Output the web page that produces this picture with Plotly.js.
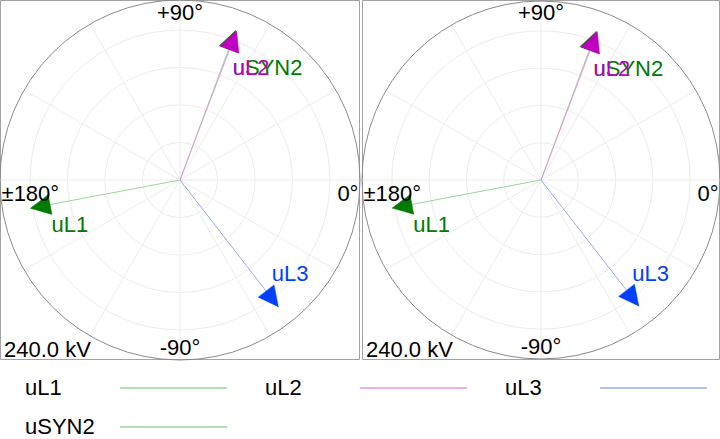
<!DOCTYPE html>
<html><head><meta charset="utf-8">
<script src="https://cdn.plot.ly/plotly-3.0.1.min.js"></script>
<style>html,body{margin:0;padding:0;background:#fff}#chart{width:720px;height:439px}</style>
</head><body><div id="chart"></div>
<script>
// ---- data ----
const phasorNames = ['uL1', 'uL2', 'uL3', 'uSYN2'];
const magnitudeKV = [203, 212.6, 214, 212.6];
const angleDeg = [-169.3, 69.2, -52.2, 69.6];
const radialMaxKV = 240;
const radialGridKV = [50, 100, 150, 200];
const angleTickVals = [0, 30, 60, 90, 120, 150, 180, 210, 240, 270, 300, 330];
const angleLabelVals = [0, 90, 180, 270];
const angleLabelText = ['0°', '+90°', '±180°', '-90°'];
const scaleLabel = '240.0 kV';

// ---- styles / placement ----
const FONT = 'Liberation Sans, Arial, sans-serif';
const FS = 22;
const lineColors = {uL1: '#9dd59d', uL2: '#e597e5', uL3: '#97adf3', uSYN2: '#9dd59d'};
const headColors = {uL1: '#007a00', uL2: '#c000c0', uL3: '#0040ff', uSYN2: '#007a00'};
// label anchor (kV radius, degrees) placed beside each arrow tip
const labelAnchor = {
  uL1: {r: 182.1, t: -160.2},
  uL2: {r: 163.4, t: 64.5},
  uL3: {r: 176.6, t: -46.2},
  uSYN2: {r: 163.4, t: 64.5}
};
// angular label placement (radius in kV, angle nudge in degrees, text position)
const angLabelPlace = [
  {r: 238, nudge: -1.6, pos: 'bottom left'},
  {r: 236, nudge: 0, pos: 'bottom center'},
  {r: 238, nudge: 1.6, pos: 'bottom right'},
  {r: 240, nudge: 0, pos: 'top center'}
];
const drawOrder = [3, 0, 2, 1];

const W = 720, H = 439, BOX = 360;
const domains = [[0, 360 / W], [362 / W, 1]];
const polarIds = ['polar', 'polar2'];

const traces = [];
polarIds.forEach((pid) => {
  drawOrder.forEach((i) => {
    const name = phasorNames[i];
    traces.push({
      type: 'scatterpolar', subplot: pid, mode: 'lines+markers', opacity: 1,
      r: [0, magnitudeKV[i]], theta: [0, angleDeg[i]],
      line: {color: lineColors[name], width: 1},
      marker: {symbol: 'arrow-up', size: [0, 20], angle: [0, 90 - angleDeg[i]],
               color: headColors[name], opacity: 1, line: {width: 0.5, color: headColors[name]}},
      hoverinfo: 'skip', cliponaxis: false
    });
  });
  drawOrder.forEach((i) => {
    const name = phasorNames[i];
    const a = labelAnchor[name];
    traces.push({
      type: 'scatterpolar', subplot: pid, mode: 'text',
      r: [a.r], theta: [a.t], text: [name], textposition: 'middle right',
      textfont: {family: FONT, size: FS, color: headColors[name]},
      hoverinfo: 'skip', cliponaxis: false
    });
  });
  traces.push({
    type: 'scatterpolar', subplot: pid, mode: 'text',
    r: angLabelPlace.map((p) => p.r),
    theta: angleLabelVals.map((v, k) => v + angLabelPlace[k].nudge),
    text: angleLabelText,
    textposition: angLabelPlace.map((p) => p.pos),
    textfont: {family: FONT, size: FS, color: '#000'},
    hoverinfo: 'skip', cliponaxis: false
  });
});

function polarLayout(dx) {
  return {
    domain: {x: dx, y: [1 - BOX / H, 1]},
    bgcolor: 'rgba(0,0,0,0)',
    radialaxis: {range: [0, radialMaxKV], tickmode: 'array', tickvals: radialGridKV,
                 showticklabels: false, ticks: '', showline: false,
                 gridcolor: '#ececec', gridwidth: 1},
    angularaxis: {tickmode: 'array', tickvals: angleTickVals, showticklabels: false,
                  ticks: '', gridcolor: '#ececec', gridwidth: 1, showline: true,
                  linecolor: '#8a8a8a', linewidth: 1, direction: 'counterclockwise', rotation: 0}
  };
}

const shapes = [];
const annotations = [];
domains.forEach((d) => {
  shapes.push({type: 'rect', xref: 'paper', yref: 'paper',
    x0: d[0] + 0.5 / W, x1: d[1] - 0.5 / W, y0: 1 - (BOX - 0.5) / H, y1: 1 - 0.5 / H,
    line: {color: '#a3a3a3', width: 1}, fillcolor: 'rgba(0,0,0,0)', layer: 'below'});
  annotations.push({xref: 'paper', yref: 'paper', x: d[0] + 2 / W, y: 1 - 349 / H,
    xanchor: 'left', yanchor: 'middle', showarrow: false, text: scaleLabel,
    font: {family: FONT, size: FS, color: '#000'}});
});

// custom legend: name then line sample
const legendItems = [
  {name: 'uL1', x: 23, y: 387, l0: 120, l1: 227},
  {name: 'uL2', x: 263, y: 387, l0: 360, l1: 467},
  {name: 'uL3', x: 503, y: 387, l0: 600, l1: 707},
  {name: 'uSYN2', x: 23, y: 426, l0: 120, l1: 227}
];
legendItems.forEach((it) => {
  annotations.push({xref: 'paper', yref: 'paper', x: it.x / W, y: 1 - it.y / H,
    xanchor: 'left', yanchor: 'middle', showarrow: false, text: it.name,
    font: {family: FONT, size: FS, color: '#000'}});
  shapes.push({type: 'line', xref: 'paper', yref: 'paper',
    x0: it.l0 / W, x1: it.l1 / W, y0: 1 - (it.y + 1) / H, y1: 1 - (it.y + 1) / H,
    line: {color: lineColors[it.name], width: 1.5}});
});

const layout = {
  width: W, height: H, margin: {l: 0, r: 0, t: 0, b: 0},
  paper_bgcolor: '#fff', showlegend: false,
  polar: polarLayout(domains[0]), polar2: polarLayout(domains[1]),
  shapes: shapes, annotations: annotations
};
Plotly.newPlot('chart', traces, layout, {displayModeBar: false, staticPlot: true});
</script>
</body></html>
